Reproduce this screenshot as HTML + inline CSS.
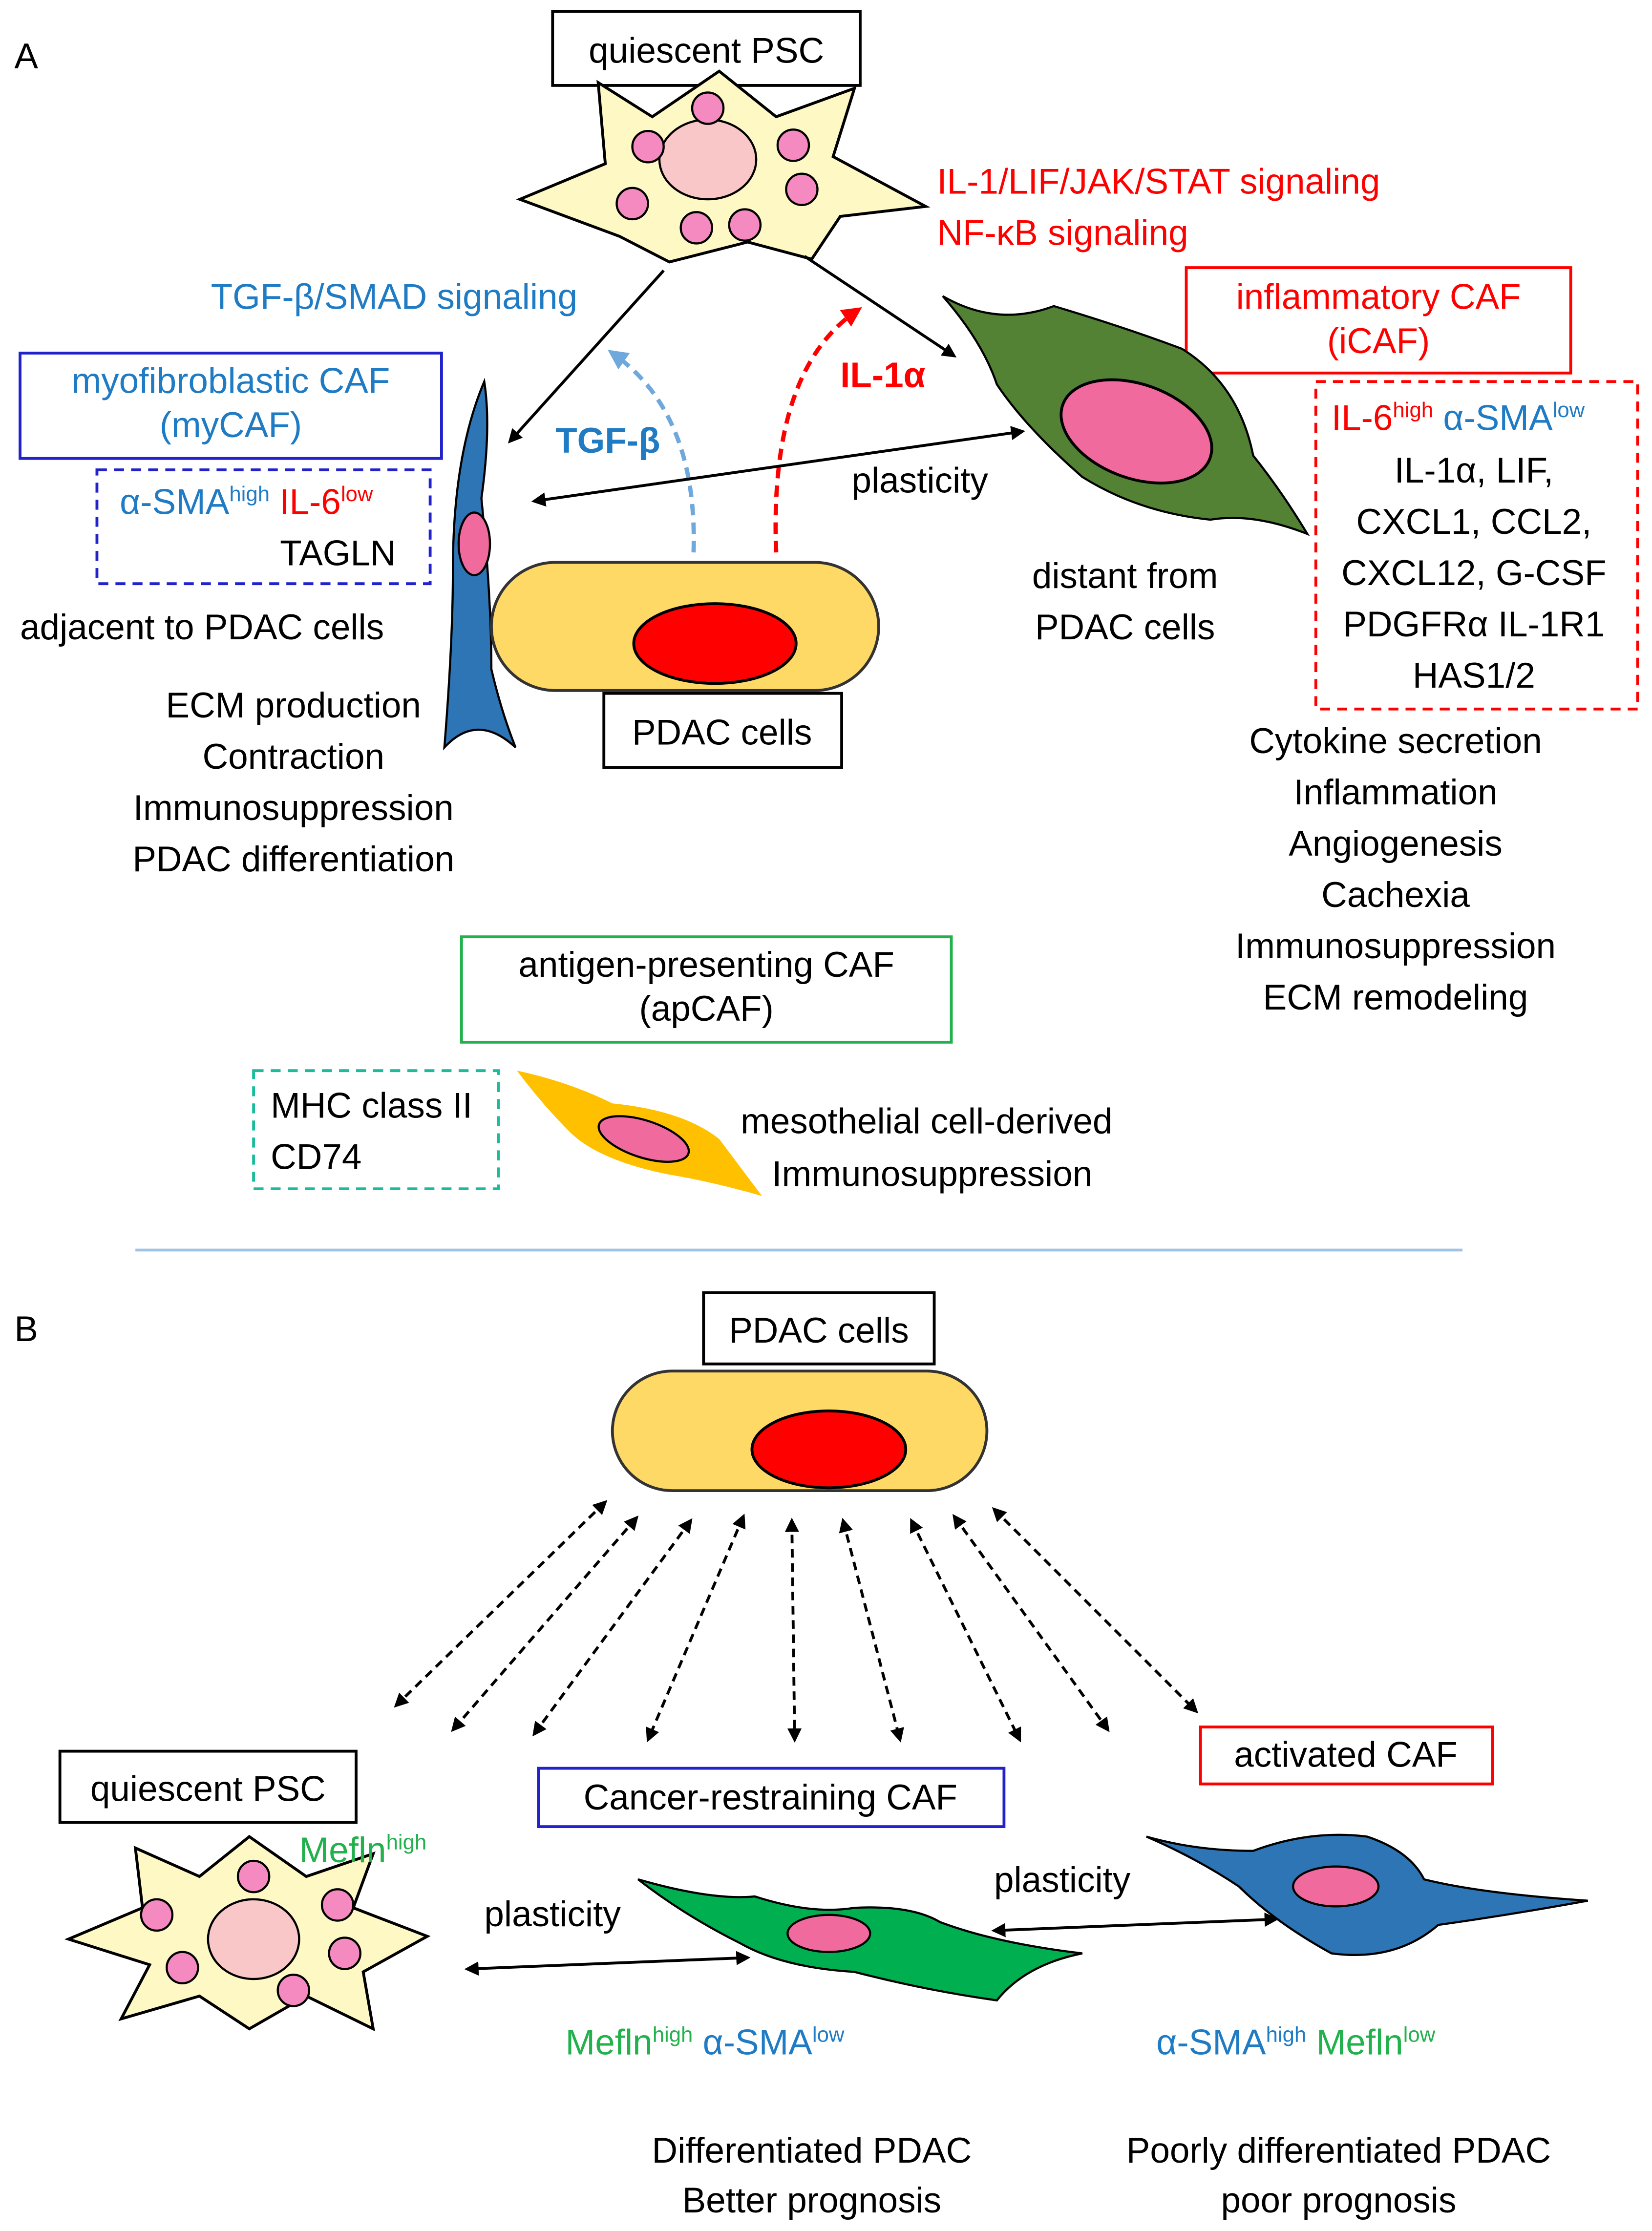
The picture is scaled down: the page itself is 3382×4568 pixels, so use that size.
<!DOCTYPE html>
<html><head><meta charset="utf-8"><style>
html,body{margin:0;padding:0;background:#fff}
svg{display:block}
text{font-family:"Liberation Sans","DejaVu Sans",sans-serif;font-size:25px}
</style></head><body>
<svg width="3382" height="4568" viewBox="0 0 1160 1567" xmlns="http://www.w3.org/2000/svg">
<defs>
<marker id="ab" markerWidth="10" markerHeight="10" refX="8" refY="5" orient="auto-start-reverse" markerUnits="userSpaceOnUse"><path d="M0,0 L10,5 L0,10 z" fill="#000"/></marker>
<marker id="al" markerWidth="14" markerHeight="14" refX="10" refY="7" orient="auto" markerUnits="userSpaceOnUse"><path d="M0,0 L14,7 L0,14 z" fill="#6fa8dc"/></marker>
<marker id="ar" markerWidth="14" markerHeight="14" refX="10" refY="7" orient="auto" markerUnits="userSpaceOnUse"><path d="M0,0 L14,7 L0,14 z" fill="#ff0000"/></marker>
</defs>
<rect width="1160" height="1567" fill="#fff"/>
<text x="10" y="48" font-size="30">A</text>
<rect x="388" y="8" width="216" height="52" fill="#fff" stroke="#000" stroke-width="2"/>
<text x="496" y="44" text-anchor="middle" font-size="27">quiescent PSC</text>
<polygon points="420,58 458,82 505,50 545,82 600,62 585,110 650,145 590,152 570,182 525,170 470,184 435,166 365,140 425,115" fill="#fdf8c4" stroke="#000" stroke-width="2"/>
<ellipse cx="497" cy="112" rx="34" ry="28" fill="#f9c7c7" stroke="#000" stroke-width="1.5"/>
<g fill="#f58ac0" stroke="#000" stroke-width="1.5">
<circle cx="497" cy="76" r="11"/><circle cx="455" cy="103" r="11"/><circle cx="444" cy="143" r="11"/><circle cx="489" cy="160" r="11"/><circle cx="523" cy="158" r="11"/><circle cx="563" cy="133" r="11"/><circle cx="557" cy="102" r="11"/></g>
<text x="658" y="136" fill="#ff0000">IL-1/LIF/JAK/STAT signaling</text>
<text x="658" y="172" fill="#ff0000">NF-κB signaling</text>
<text x="148" y="217" fill="#1f7bc4">TGF-β/SMAD signaling</text>
<rect x="833" y="188" width="270" height="74" fill="#fff" stroke="#ff0000" stroke-width="2"/>
<text x="968" y="217" text-anchor="middle" fill="#ff0000" font-size="27">inflammatory CAF</text>
<text x="968" y="248" text-anchor="middle" fill="#ff0000" font-size="27">(iCAF)</text>
<rect x="14" y="248" width="296" height="74" fill="#fff" stroke="#2222cc" stroke-width="2"/>
<text x="162" y="276" text-anchor="middle" fill="#1f7bc4" font-size="27">myofibroblastic CAF</text>
<text x="162" y="307" text-anchor="middle" fill="#1f7bc4" font-size="27">(myCAF)</text>
<rect x="68" y="330" width="234" height="80" fill="none" stroke="#2222cc" stroke-width="2" stroke-dasharray="7,5"/>
<text x="84" y="361" fill="#1f7bc4">α-SMA<tspan font-size="15" dy="-9">high</tspan><tspan dy="9" fill="#ff0000"> IL-6</tspan><tspan font-size="15" dy="-9" fill="#ff0000">low</tspan></text>
<text x="278" y="397" text-anchor="end">TAGLN</text>
<rect x="924" y="268" width="226" height="230" fill="none" stroke="#ff0000" stroke-width="2" stroke-dasharray="7,5"/>
<text x="935" y="302" fill="#ff0000">IL-6<tspan font-size="15" dy="-9">high</tspan><tspan dy="9" fill="#1f7bc4"> α-SMA</tspan><tspan font-size="15" dy="-9" fill="#1f7bc4">low</tspan></text>
<g text-anchor="middle"><text x="1035" y="339">IL-1α, LIF,</text><text x="1035" y="375">CXCL1, CCL2,</text><text x="1035" y="411">CXCL12, G-CSF</text><text x="1035" y="447">PDGFRα  IL-1R1</text><text x="1035" y="483">HAS1/2</text></g>
<line x1="466" y1="190" x2="358" y2="310" stroke="#000" stroke-width="2" marker-end="url(#ab)"/>
<line x1="565" y1="180" x2="670" y2="250" stroke="#000" stroke-width="2" marker-end="url(#ab)"/>
<path d="M487,388 Q490,290 430,248" fill="none" stroke="#6fa8dc" stroke-width="3" stroke-dasharray="8,5" marker-end="url(#al)"/>
<path d="M545,388 Q540,260 602,218" fill="none" stroke="#ff0000" stroke-width="3" stroke-dasharray="8,5" marker-end="url(#ar)"/>
<text x="390" y="318" fill="#1f7bc4" font-weight="bold">TGF-β</text>
<text x="590" y="272" fill="#ff0000" font-weight="bold">IL-1α</text>
<path d="M312,525 Q318,450 318,400 Q318,320 340,268 Q345,300 338,350 Q345,420 345,470 Q352,500 362,525 Q335,500 312,525 z" fill="#2e75b6" stroke="#000" stroke-width="1.5"/>
<ellipse cx="333" cy="382" rx="11" ry="22" fill="#f06a9e" stroke="#000" stroke-width="1.5"/>
<path d="M662,208 Q700,230 740,215 Q790,230 830,245 Q870,270 880,320 Q900,345 918,375 Q880,360 850,365 Q800,360 760,335 Q720,300 700,270 Q690,240 662,208 z" fill="#548235" stroke="#000" stroke-width="1.5"/>
<ellipse cx="798" cy="303" rx="55" ry="33" transform="rotate(20 798 303)" fill="#f06a9e" stroke="#000" stroke-width="2"/>
<line x1="375" y1="352" x2="718" y2="303" stroke="#000" stroke-width="2" marker-start="url(#ab)" marker-end="url(#ab)"/>
<text x="598" y="346">plasticity</text>
<rect x="345" y="395" width="272" height="90" rx="45" fill="#ffd966" stroke="#333" stroke-width="2"/>
<ellipse cx="502" cy="452" rx="57" ry="28" fill="#ff0000" stroke="#000" stroke-width="2"/>
<rect x="424" y="487" width="167" height="52" fill="#fff" stroke="#000" stroke-width="2"/>
<text x="507" y="523" text-anchor="middle" font-size="27">PDAC cells</text>
<text x="14" y="449">adjacent to PDAC cells</text>
<g text-anchor="middle"><text x="206" y="504">ECM production</text><text x="206" y="540">Contraction</text><text x="206" y="576">Immunosuppression</text><text x="206" y="612">PDAC differentiation</text>
<text x="790" y="413">distant from</text><text x="790" y="449">PDAC cells</text>
<text x="980" y="529">Cytokine secretion</text><text x="980" y="565">Inflammation</text><text x="980" y="601">Angiogenesis</text><text x="980" y="637">Cachexia</text><text x="980" y="673">Immunosuppression</text><text x="980" y="709">ECM remodeling</text></g>
<rect x="324" y="658" width="344" height="74" fill="#fff" stroke="#22b14c" stroke-width="2"/>
<text x="496" y="686" text-anchor="middle" font-size="27">antigen-presenting CAF</text>
<text x="496" y="717" text-anchor="middle" font-size="27">(apCAF)</text>
<rect x="178" y="752" width="172" height="83" fill="none" stroke="#1abc9c" stroke-width="2" stroke-dasharray="7,5"/>
<text x="190" y="785">MHC class II</text><text x="190" y="821">CD74</text>
<path d="M363,752 Q400,760 430,775 Q480,780 505,800 Q520,820 535,840 Q500,830 470,825 Q420,815 400,795 Q380,775 363,752 z" fill="#ffc000" stroke="none"/>
<ellipse cx="452" cy="800" rx="33" ry="13" transform="rotate(18 452 800)" fill="#f06a9e" stroke="#000" stroke-width="1.5"/>
<text x="520" y="796">mesothelial cell-derived</text>
<text x="542" y="833">Immunosuppression</text>
<line x1="95" y1="878" x2="1027" y2="878" stroke="#9dc3e6" stroke-width="2"/>
<text x="10" y="942" font-size="30">B</text>
<rect x="494" y="908" width="162" height="50" fill="#fff" stroke="#000" stroke-width="2"/>
<text x="575" y="943" text-anchor="middle" font-size="27">PDAC cells</text>
<rect x="430" y="963" width="263" height="84" rx="42" fill="#ffd966" stroke="#333" stroke-width="2"/>
<ellipse cx="582" cy="1018" rx="54" ry="27" fill="#ff0000" stroke="#000" stroke-width="2"/>
<g stroke="#000" stroke-width="2" stroke-dasharray="6,4" marker-start="url(#ab)" marker-end="url(#ab)">
<line x1="425" y1="1055" x2="278" y2="1198"/><line x1="447" y1="1066" x2="318" y2="1215"/><line x1="485" y1="1068" x2="375" y2="1218"/><line x1="522" y1="1065" x2="455" y2="1222"/><line x1="556" y1="1068" x2="558" y2="1222"/><line x1="592" y1="1068" x2="632" y2="1222"/><line x1="640" y1="1068" x2="716" y2="1222"/><line x1="670" y1="1065" x2="778" y2="1215"/><line x1="698" y1="1060" x2="840" y2="1202"/></g>
<rect x="42" y="1230" width="208" height="50" fill="#fff" stroke="#000" stroke-width="2"/>
<text x="146" y="1265" text-anchor="middle" font-size="27">quiescent PSC</text>
<rect x="378" y="1242" width="327" height="41" fill="#fff" stroke="#2222cc" stroke-width="2"/>
<text x="541" y="1271" text-anchor="middle" font-size="27">Cancer-restraining CAF</text>
<rect x="843" y="1213" width="205" height="40" fill="#fff" stroke="#ff0000" stroke-width="2"/>
<text x="945" y="1241" text-anchor="middle" font-size="27">activated CAF</text>
<polygon points="95,1298 140,1318 175,1290 215,1318 262,1302 248,1340 300,1360 255,1385 262,1425 215,1402 175,1425 140,1402 85,1418 105,1380 48,1362 100,1340" fill="#fdf8c4" stroke="#000" stroke-width="2"/>
<ellipse cx="178" cy="1362" rx="32" ry="28" fill="#f9c7c7" stroke="#000" stroke-width="1.5"/>
<g fill="#f58ac0" stroke="#000" stroke-width="1.5"><circle cx="178" cy="1318" r="11"/><circle cx="110" cy="1345" r="11"/><circle cx="237" cy="1338" r="11"/><circle cx="242" cy="1372" r="11"/><circle cx="128" cy="1382" r="11"/><circle cx="206" cy="1398" r="11"/></g>
<text x="210" y="1308" fill="#22b14c">Mefln<tspan font-size="15" dy="-9">high</tspan></text>
<text x="340" y="1353">plasticity</text>
<line x1="328" y1="1383" x2="525" y2="1375" stroke="#000" stroke-width="2" marker-start="url(#ab)" marker-end="url(#ab)"/>
<path d="M448,1320 Q500,1335 530,1332 Q570,1345 600,1340 Q640,1338 660,1350 Q700,1365 760,1372 Q720,1380 700,1405 Q650,1398 600,1385 Q550,1382 520,1365 Q480,1345 448,1320 z" fill="#00b050" stroke="#000" stroke-width="1.5"/>
<ellipse cx="582" cy="1358" rx="29" ry="13" fill="#f06a9e" stroke="#000" stroke-width="1.5"/>
<text x="698" y="1329">plasticity</text>
<line x1="698" y1="1356" x2="896" y2="1348" stroke="#000" stroke-width="2" marker-start="url(#ab)" marker-end="url(#ab)"/>
<path d="M805,1290 Q840,1300 880,1300 Q920,1285 960,1290 Q990,1300 1000,1320 Q1040,1330 1115,1335 Q1060,1345 1010,1352 Q980,1378 935,1372 Q895,1350 870,1325 Q840,1305 805,1290 z" fill="#2e75b6" stroke="#000" stroke-width="1.5"/>
<ellipse cx="938" cy="1325" rx="30" ry="14" fill="#f06a9e" stroke="#000" stroke-width="1.5"/>
<text x="397" y="1443" fill="#22b14c">Mefln<tspan font-size="15" dy="-9">high</tspan><tspan dy="9" fill="#1f7bc4"> α-SMA</tspan><tspan font-size="15" dy="-9" fill="#1f7bc4">low</tspan></text>
<text x="812" y="1443" fill="#1f7bc4">α-SMA<tspan font-size="15" dy="-9">high</tspan><tspan dy="9" fill="#22b14c"> Mefln</tspan><tspan font-size="15" dy="-9" fill="#22b14c">low</tspan></text>
<g text-anchor="middle"><text x="570" y="1519">Differentiated PDAC</text><text x="570" y="1554">Better prognosis</text><text x="940" y="1519">Poorly differentiated PDAC</text><text x="940" y="1554">poor prognosis</text></g>
</svg>
</body></html>
